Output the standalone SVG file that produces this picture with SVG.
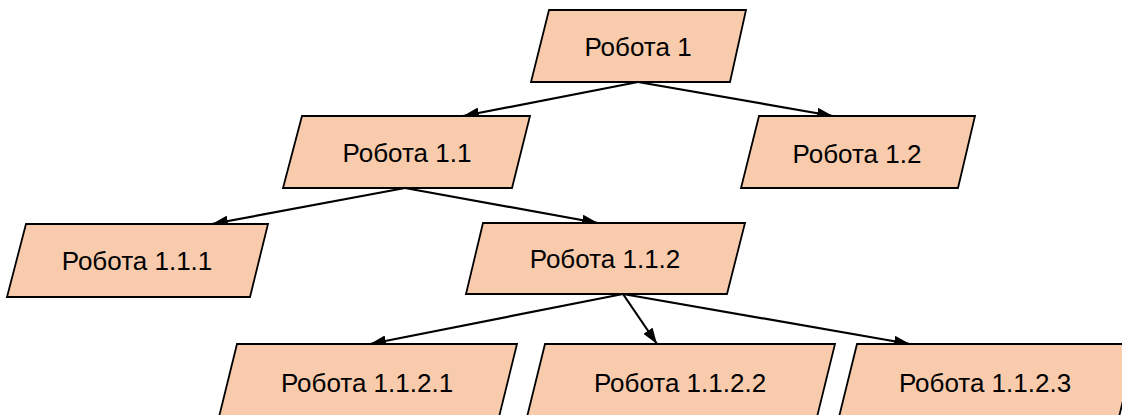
<svg xmlns="http://www.w3.org/2000/svg" width="1122" height="415" viewBox="0 0 1122 415">
<style>
.n{fill:#F8CBAD;stroke:#000;stroke-width:1.8}
.t{font-family:"Liberation Sans",Arial,sans-serif;font-size:26px;fill:#000;text-anchor:middle}
.c{stroke:#000;stroke-width:2.2;fill:none;marker-end:url(#ah)}
</style>
<defs>
<marker id="ah" viewBox="0 0 16 11" refX="16" refY="5.5" markerWidth="16" markerHeight="11" markerUnits="userSpaceOnUse" orient="auto">
<path d="M0,0 L16,5.5 L0,11 z" fill="#000"/>
</marker>
</defs>
<rect width="1122" height="415" fill="#fff"/>
<g id="connectors">
<line class="c" x1="638" y1="82" x2="463" y2="116"/>
<line class="c" x1="638" y1="82" x2="833" y2="116"/>
<line class="c" x1="405" y1="188" x2="212" y2="224"/>
<line class="c" x1="405" y1="188" x2="598" y2="223"/>
<line class="c" x1="623" y1="294" x2="370" y2="344"/>
<line class="c" x1="623" y1="294" x2="657" y2="344"/>
<line class="c" x1="623" y1="294" x2="910" y2="344"/>
</g>
<g id="n1"><polygon class="n" points="549,10 746,10 730,82 531,82"/><text class="t" x="638" y="56">Робота 1</text></g>
<g id="n1_1"><polygon class="n" points="302,116 530,116 512,188 283,188"/><text class="t" x="407" y="162">Робота 1.1</text></g>
<g id="n1_2"><polygon class="n" points="759,116 975,116 958,188 741,188"/><text class="t" x="857" y="163">Робота 1.2</text></g>
<g id="n1_1_1"><polygon class="n" points="26,224 268,224 250,297 7,297"/><text class="t" x="137" y="270">Робота 1.1.1</text></g>
<g id="n1_1_2"><polygon class="n" points="483,223 745,223 727,294 466,294"/><text class="t" x="605" y="268">Робота 1.1.2</text></g>
<g id="n1_1_2_1"><polygon class="n" points="237,344 517,344 499,417 219,417"/><text class="t" x="367" y="392">Робота 1.1.2.1</text></g>
<g id="n1_1_2_2"><polygon class="n" points="545,344 835,344 817,417 527,417"/><text class="t" x="680" y="392">Робота 1.1.2.2</text></g>
<g id="n1_1_2_3"><polygon class="n" points="857,344 1137,344 1119,417 839,417"/><text class="t" x="985" y="392">Робота 1.1.2.3</text></g>
</svg>
